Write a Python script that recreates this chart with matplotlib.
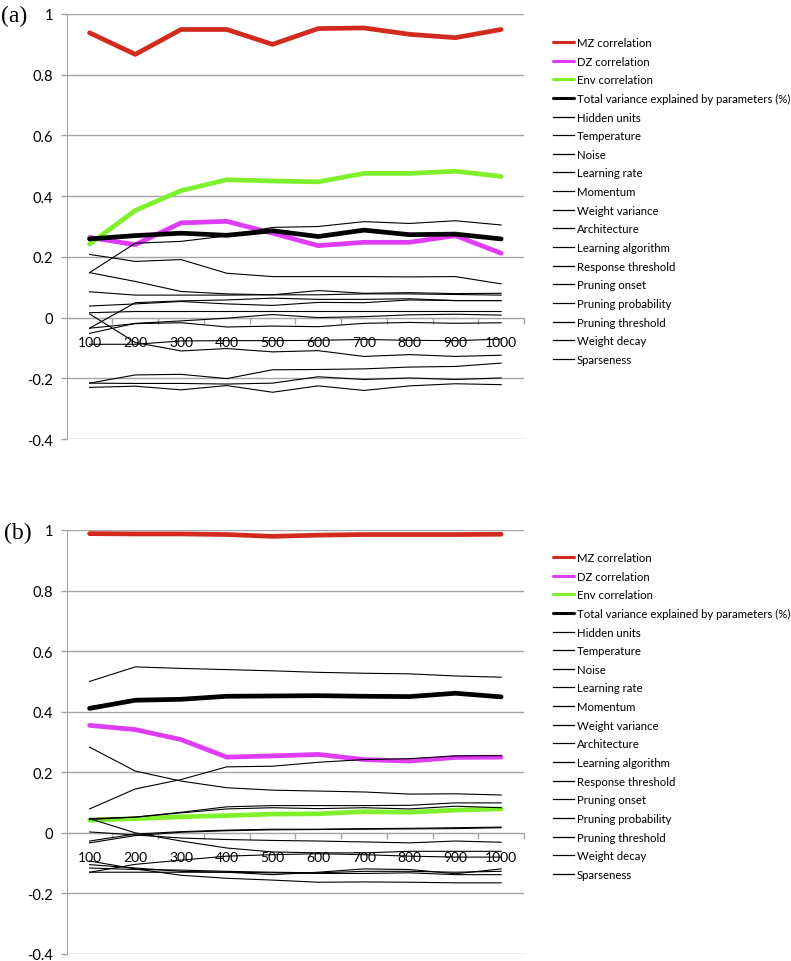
import matplotlib
matplotlib.use('Agg')
import matplotlib.pyplot as plt
import numpy as np

plt.rcParams['font.family'] = ['Lato', 'DejaVu Sans']
plt.rcParams['axes.unicode_minus'] = False

# ---------------- data ----------------
sizes = ['100', '200', '300', '400', '500', '600', '700', '800', '900', '1000']
y_ticks = [-0.4, -0.2, 0, 0.2, 0.4, 0.6, 0.8, 1]
y_tick_labels = ['-0.4', '-0.2', '0', '0.2', '0.4', '0.6', '0.8', '1']

main_labels = ['MZ correlation', 'DZ correlation', 'Env correlation',
               'Total variance explained by parameters (%)']
param_labels = ['Hidden units', 'Temperature', 'Noise', 'Learning rate', 'Momentum',
                'Weight variance', 'Architecture', 'Learning algorithm',
                'Response threshold', 'Pruning onset', 'Pruning probability',
                'Pruning threshold', 'Weight decay', 'Sparseness']

# panel (a)
a_mz = [0.938, 0.867, 0.949, 0.949, 0.900, 0.952, 0.954, 0.933, 0.922, 0.949]
a_dz = [0.264, 0.240, 0.312, 0.317, 0.278, 0.237, 0.248, 0.248, 0.270, 0.212]
a_env = [0.242, 0.353, 0.418, 0.454, 0.450, 0.447, 0.475, 0.475, 0.482, 0.465]
a_total = [0.259, 0.270, 0.278, 0.271, 0.286, 0.267, 0.288, 0.273, 0.275, 0.259]
a_hidden_units = [0.148, 0.245, 0.251, 0.269, 0.297, 0.300, 0.316, 0.310, 0.319, 0.305]
a_temperature = [0.208, 0.185, 0.191, 0.146, 0.135, 0.135, 0.135, 0.134, 0.135, 0.111]
a_noise = [0.148, 0.119, 0.086, 0.078, 0.075, 0.075, 0.078, 0.078, 0.076, 0.074]
a_learning_rate = [0.085, 0.074, 0.074, 0.074, 0.075, 0.089, 0.080, 0.082, 0.079, 0.080]
a_momentum = [0.038, 0.045, 0.053, 0.045, 0.040, 0.050, 0.049, 0.058, 0.056, 0.056]
a_weight_variance = [-0.035, 0.049, 0.055, 0.058, 0.064, 0.060, 0.060, 0.062, 0.056, 0.056]
a_architecture = [0.016, 0.020, 0.020, 0.020, 0.020, 0.020, 0.020, 0.020, 0.020, 0.020]
a_learning_algorithm = [0.012, -0.082, -0.110, -0.102, -0.113, -0.109, -0.128, -0.122, -0.128, -0.124]
a_response_threshold = [-0.052, -0.019, -0.011, -0.002, 0.010, 0.000, 0.003, 0.009, 0.011, 0.008]
a_pruning_onset = [-0.035, -0.020, -0.017, -0.031, -0.028, -0.030, -0.019, -0.016, -0.019, -0.017]
a_pruning_probability = [-0.088, -0.088, -0.077, -0.076, -0.076, -0.075, -0.072, -0.075, -0.076, -0.071]
a_pruning_threshold = [-0.216, -0.189, -0.187, -0.201, -0.172, -0.171, -0.169, -0.163, -0.161, -0.150]
a_weight_decay = [-0.216, -0.217, -0.217, -0.219, -0.216, -0.195, -0.204, -0.199, -0.204, -0.199]
a_sparseness = [-0.230, -0.226, -0.238, -0.224, -0.246, -0.225, -0.240, -0.225, -0.218, -0.221]

# panel (b)
b_mz = [0.988, 0.987, 0.987, 0.985, 0.979, 0.983, 0.985, 0.985, 0.985, 0.986]
b_dz = [0.355, 0.341, 0.308, 0.250, 0.254, 0.259, 0.242, 0.237, 0.249, 0.250]
b_env = [0.042, 0.047, 0.053, 0.057, 0.062, 0.063, 0.070, 0.068, 0.075, 0.079]
b_total = [0.411, 0.438, 0.441, 0.451, 0.452, 0.453, 0.451, 0.450, 0.461, 0.449]
b_hidden_units = [0.500, 0.548, 0.543, 0.539, 0.535, 0.530, 0.527, 0.525, 0.518, 0.514]
b_temperature = [0.283, 0.204, 0.171, 0.149, 0.141, 0.138, 0.135, 0.128, 0.129, 0.125]
b_noise = [0.079, 0.145, 0.176, 0.218, 0.220, 0.233, 0.242, 0.245, 0.254, 0.255]
b_learning_rate = [0.044, 0.052, 0.068, 0.086, 0.090, 0.090, 0.090, 0.091, 0.099, 0.099]
b_momentum = [0.047, 0.052, 0.066, 0.079, 0.083, 0.080, 0.083, 0.079, 0.088, 0.083]
b_weight_variance = [-0.027, -0.004, 0.004, 0.009, 0.012, 0.012, 0.014, 0.015, 0.017, 0.019]
b_architecture = [-0.033, -0.009, 0.002, 0.007, 0.010, 0.011, 0.012, 0.013, 0.014, 0.017]
b_learning_algorithm = [0.003, -0.007, -0.017, -0.022, -0.025, -0.027, -0.030, -0.033, -0.027, -0.031]
b_response_threshold = [0.047, 0.000, -0.027, -0.050, -0.063, -0.066, -0.066, -0.061, -0.061, -0.061]
b_pruning_onset = [-0.130, -0.104, -0.090, -0.077, -0.072, -0.069, -0.072, -0.077, -0.080, -0.080]
b_pruning_probability = [-0.093, -0.119, -0.140, -0.150, -0.156, -0.163, -0.162, -0.163, -0.165, -0.165]
b_pruning_threshold = [-0.105, -0.116, -0.127, -0.130, -0.138, -0.130, -0.119, -0.121, -0.135, -0.119]
b_weight_decay = [-0.116, -0.121, -0.123, -0.127, -0.130, -0.132, -0.127, -0.127, -0.130, -0.127]
b_sparseness = [-0.130, -0.130, -0.130, -0.130, -0.132, -0.134, -0.134, -0.132, -0.138, -0.138]

panels = [
    dict(tag='(a)',
         main=[a_mz, a_dz, a_env, a_total],
         params=[a_hidden_units, a_temperature, a_noise, a_learning_rate, a_momentum,
                 a_weight_variance, a_architecture, a_learning_algorithm,
                 a_response_threshold, a_pruning_onset, a_pruning_probability,
                 a_pruning_threshold, a_weight_decay, a_sparseness]),
    dict(tag='(b)',
         main=[b_mz, b_dz, b_env, b_total],
         params=[b_hidden_units, b_temperature, b_noise, b_learning_rate, b_momentum,
                 b_weight_variance, b_architecture, b_learning_algorithm,
                 b_response_threshold, b_pruning_onset, b_pruning_probability,
                 b_pruning_threshold, b_weight_decay, b_sparseness]),
]

main_colors = ['#d22a1e', '#df3cf5', '#7ef02c', '#000000']
grid_color = '#a6a6a6'

W, H = 791, 962
fig = plt.figure(figsize=(W / 100, H / 100), dpi=100)

# pixel layout of the two plot areas: (left, right, top, bottom)
areas = [(66.7, 524, 15, 440), (66.7, 524, 531, 955)]
legend_tops = [38, 553]
tag_pos = [(1, 16), (4, 533)]

x = np.arange(len(sizes))

for p, area, ltop, tpos in zip(panels, areas, legend_tops, tag_pos):
    l, r, t, b = area
    ax = fig.add_axes([l / W, 1 - b / H, (r - l) / W, (b - t) / H])
    handles = []
    for vals, c, lab in zip(p['main'], main_colors, main_labels):
        ln, = ax.plot(x, vals, color=c, lw=3.4, solid_capstyle='round',
                      solid_joinstyle='round', label=lab, zorder=3)
        handles.append(ln)
    for vals, lab in zip(p['params'], param_labels):
        ln, = ax.plot(x, vals, color='black', lw=0.8, label=lab, zorder=4)
        handles.append(ln)

    ax.set_xlim(-0.5, len(sizes) - 0.5)
    ax.set_ylim(-0.4, 1.0)
    ax.set_yticks(y_ticks)
    ax.set_yticklabels(y_tick_labels)
    ax.yaxis.grid(True, color=grid_color, lw=1.0)
    ax.set_axisbelow(True)
    for s in ['top', 'right']:
        ax.spines[s].set_visible(False)
    ax.spines['left'].set_color(grid_color)
    ax.spines['bottom'].set_color(grid_color)
    ax.spines['bottom'].set_position(('data', 0))
    ax.tick_params(axis='y', length=4, width=1, color=grid_color, pad=6,
                   labelsize=10.5, labelcolor='black')
    # category boundaries as major ticks, labels at the category centres
    ax.set_xticks(np.arange(0.5, len(sizes), 1.0))
    ax.set_xticklabels([])
    ax.set_xticks(x, minor=True)
    ax.set_xticklabels(sizes, minor=True)
    ax.tick_params(axis='x', which='major', direction='out', length=4, width=1,
                   color=grid_color)
    ax.tick_params(axis='x', which='minor', length=0, pad=13, labelsize=10)

    leg = fig.legend(handles=handles, loc='upper left',
                     bbox_to_anchor=(553 / W, 1 - ltop / H), frameon=False,
                     borderpad=0, borderaxespad=0, handlelength=1.85,
                     handletextpad=0.25, labelspacing=0.67, fontsize=8.2)
    for i, hl in enumerate(leg.get_lines()):
        hl.set_linewidth(2.2 if i < 4 else 0.9)

    fig.text(tpos[0] / W, 1 - tpos[1] / H, p['tag'], family='Liberation Serif',
             fontsize=17, ha='left', va='center')

fig.savefig('out.png', dpi=100)
